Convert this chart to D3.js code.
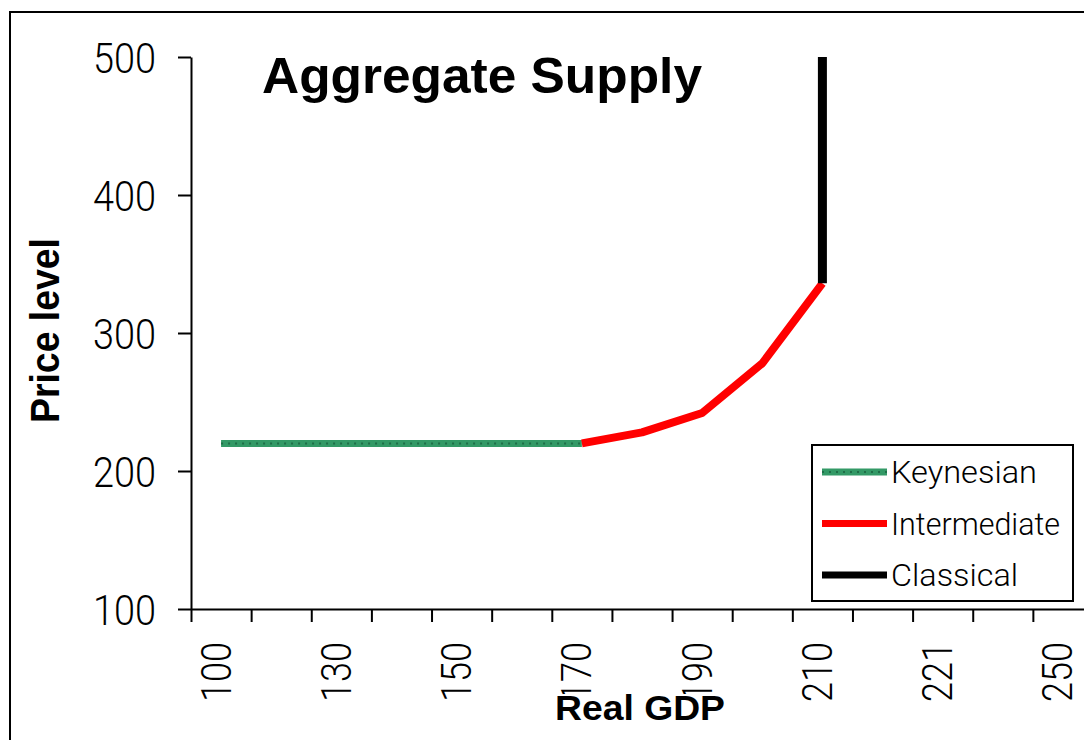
<!DOCTYPE html>
<html>
<head>
<meta charset="utf-8">
<script src="https://cdn.jsdelivr.net/npm/d3@7/dist/d3.min.js"></script>
<style>
  html, body { margin: 0; padding: 0; background: #fff; }
  svg { display: block; }
  text { font-family: "Liberation Sans", Arial, sans-serif; }
  .thin { font-family: Roboto, "Liberation Sans", Arial, sans-serif; font-weight: 300; }
</style>
</head>
<body>
<svg id="chart" width="1084" height="740"></svg>
<script>
// ---- data ----
const categories = ["100", "", "130", "", "150", "", "170", "", "190", "", "210", "", "221", "", "250"];
const yTicks = [100, 200, 300, 400, 500];

const keynesianCats = [0, 1, 2, 3, 4, 5, 6];
const keynesianValues = [220, 220, 220, 220, 220, 220, 220];

const intermediateCats = [6, 7, 8, 9, 10];
const intermediateValues = [220, 228, 242, 278, 336];

const classicalCats = [10, 10];
const classicalValues = [336, 500];

const seriesNames = ["Keynesian", "Intermediate", "Classical"];
const seriesColors = ["#339966", "#ff0000", "#000000"];

// ---- layout ----
const svg = d3.select("#chart");
const W = 1084, H = 740;
const plot = { left: 191, top: 57, right: 1093, bottom: 609 };

svg.append("rect").attr("width", W).attr("height", H).attr("fill", "#fff");
// outer chart frame (extends past the picture on the right/bottom)
svg.append("rect")
  .attr("x", 10).attr("y", 12).attr("width", 1200).attr("height", 800)
  .attr("fill", "none").attr("stroke", "#000").attr("stroke-width", 2);

const xBand = d3.scaleBand().domain(d3.range(categories.length)).range([plot.left, plot.right]).padding(0);
const xEdge = d3.scaleLinear().domain([0, categories.length]).range([plot.left, plot.right]);
const y = d3.scaleLinear().domain([100, 500]).range([plot.bottom, plot.top]);
const cx = i => xBand(i) + xBand.bandwidth() / 2;

// ---- axes ----
const yAxis = svg.append("g")
  .attr("transform", `translate(${plot.left},0)`)
  .call(d3.axisLeft(y).tickValues(yTicks).tickSize(13).tickSizeOuter(0).tickPadding(22).tickFormat(d3.format("d")));
yAxis.select(".domain").attr("stroke", "#000").attr("stroke-width", 2);
yAxis.selectAll(".tick line").attr("stroke", "#000").attr("stroke-width", 2);
yAxis.selectAll(".tick text")
  .attr("class", "thin")
  .attr("font-size", 42).attr("fill", "#000")
  .attr("font-family", null)
  .attr("textLength", 63).attr("lengthAdjust", "spacingAndGlyphs")
  .attr("dy", "0.36em");

const xAxis = svg.append("g")
  .attr("transform", `translate(0,${plot.bottom})`)
  .call(d3.axisBottom(xEdge).tickValues(d3.range(categories.length)).tickSize(13).tickSizeOuter(0).tickFormat(""));
xAxis.select(".domain").attr("stroke", "#000").attr("stroke-width", 2);
xAxis.selectAll(".tick line").attr("stroke", "#000").attr("stroke-width", 2);

// category labels (rotated)
svg.append("g").selectAll("text")
  .data(categories.map((c, i) => ({ c, i })).filter(d => d.c !== ""))
  .join("text")
  .attr("class", "thin")
  .attr("transform", d => `translate(${cx(d.i) + 9.5},642) rotate(-90)`)
  .attr("text-anchor", "end")
  .attr("font-size", 42)
  .attr("textLength", 60).attr("lengthAdjust", "spacingAndGlyphs")
  .attr("fill", "#000")
  .text(d => d.c);

// ---- series ----
const line = d3.line().x(d => cx(d[0])).y(d => y(d[1]));
const kData = keynesianCats.map((c, i) => [c, keynesianValues[i]]);
const iData = intermediateCats.map((c, i) => [c, intermediateValues[i]]);
const cData = classicalCats.map((c, i) => [c, classicalValues[i]]);

svg.append("path").datum(kData).attr("d", line)
  .attr("fill", "none").attr("stroke", seriesColors[0]).attr("stroke-width", 7);
svg.append("path").datum(kData).attr("d", line)
  .attr("fill", "none").attr("stroke", "#1f6e48").attr("stroke-width", 2).attr("stroke-dasharray", "2,5");
svg.append("path").datum(iData).attr("d", line)
  .attr("fill", "none").attr("stroke", seriesColors[1]).attr("stroke-width", 8).attr("stroke-linejoin", "round");
svg.append("path").datum(cData).attr("d", line)
  .attr("fill", "none").attr("stroke", seriesColors[2]).attr("stroke-width", 9);

// ---- legend ----
const lg = svg.append("g");
lg.append("rect").attr("x", 812).attr("y", 445).attr("width", 261).attr("height", 156)
  .attr("fill", "#fff").attr("stroke", "#000").attr("stroke-width", 2);
const legendWidths = [146, 169, 127];
seriesNames.forEach((name, i) => {
  const ly = 472 + i * 51.5;
  lg.append("line").attr("x1", 822).attr("x2", 887).attr("y1", ly).attr("y2", ly)
    .attr("stroke", seriesColors[i]).attr("stroke-width", 7);
  if (i === 0) {
    lg.append("line").attr("x1", 822).attr("x2", 887).attr("y1", ly).attr("y2", ly)
      .attr("stroke", "#1f6e48").attr("stroke-width", 2).attr("stroke-dasharray", "2,5");
  }
  lg.append("text").attr("class", "thin").attr("x", 891).attr("y", ly + 11)
    .attr("font-size", 32).attr("fill", "#000")
    .attr("textLength", legendWidths[i]).attr("lengthAdjust", "spacingAndGlyphs")
    .text(name);
});

// ---- titles ----
svg.append("text").attr("x", 262).attr("y", 93)
  .attr("font-size", 50).attr("font-weight", "bold").attr("fill", "#000")
  .attr("textLength", 440).attr("lengthAdjust", "spacingAndGlyphs")
  .text("Aggregate Supply");

svg.append("text")
  .attr("transform", "translate(59,330.5) rotate(-90)")
  .attr("text-anchor", "middle")
  .attr("font-size", 41).attr("font-weight", "bold").attr("fill", "#000")
  .attr("textLength", 185).attr("lengthAdjust", "spacingAndGlyphs")
  .text("Price level");

svg.append("rect").attr("x", 550).attr("y", 694).attr("width", 180).attr("height", 36).attr("fill", "#fff");
svg.append("text").attr("x", 555).attr("y", 720)
  .attr("font-size", 35).attr("font-weight", "bold").attr("fill", "#000")
  .attr("textLength", 170).attr("lengthAdjust", "spacingAndGlyphs")
  .text("Real GDP");
</script>
</body>
</html>
